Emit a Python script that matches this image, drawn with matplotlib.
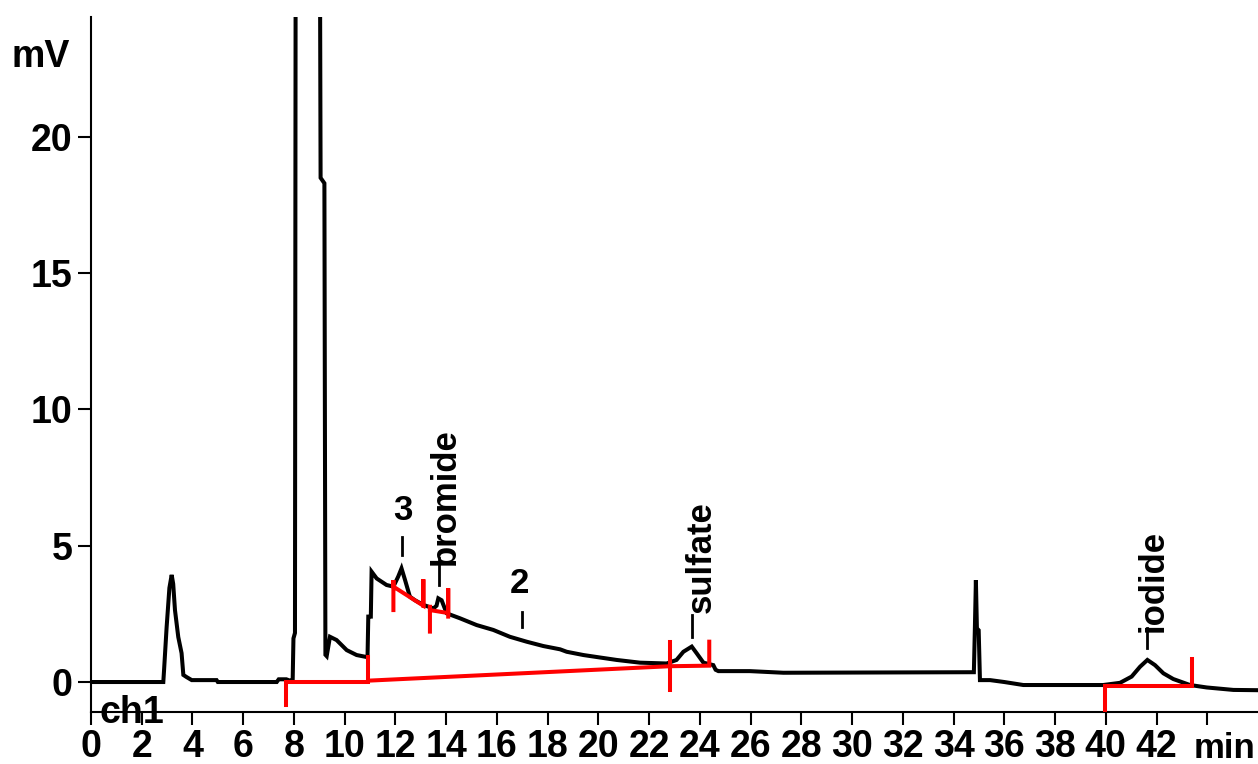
import matplotlib
matplotlib.use("Agg")
import matplotlib.pyplot as plt
import matplotlib.transforms as mtransforms

# ---- data ----
time_min = [0.0, 2.85, 2.88, 2.98, 3.09, 3.18, 3.24, 3.31, 3.44, 3.57, 3.64, 3.77, 3.97,
            4.95, 5.0, 7.32, 7.4, 7.7, 7.84, 7.95, 7.98, 8.04, 8.07, 8.5, 8.98, 9.03, 9.05,
            9.2, 9.24, 9.29, 9.42, 9.68, 10.08, 10.47, 10.9, 10.93, 11.03, 11.06, 11.26,
            11.65, 11.92, 12.11, 12.24, 12.38, 12.57, 12.77, 13.1, 13.5, 13.62, 13.69,
            13.82, 14.02, 14.54, 15.2, 15.86, 16.51, 17.17, 17.83, 18.49, 18.75, 19.41,
            20.06, 20.72, 21.64, 22.69, 23.08, 23.35, 23.68, 23.87, 24.14, 24.53, 24.62,
            24.73, 25.97, 27.29, 34.80, 34.84, 34.88, 34.92, 34.99, 35.04, 35.44, 36.0,
            36.75, 39.9, 40.56, 41.02, 41.35, 41.64, 41.94, 42.27, 42.66, 43.32, 43.98,
            45.03, 46.0]
signal_mv = [0.0, 0.0, 0.44, 2.0, 3.45, 3.93, 3.6, 2.64, 1.65, 1.06, 0.26, 0.18, 0.07,
             0.07, 0.0, 0.0, 0.1, 0.1, 0.05, 0.1, 1.6, 1.8, 30.0, 60.0, 40.0, 25.0, 18.5,
             18.3, 1.0, 0.95, 1.66, 1.54, 1.17, 0.99, 0.91, 2.4, 2.4, 4.05, 3.8,
             3.56, 3.5, 3.87, 4.17, 3.74, 3.13, 3.0, 2.83, 2.7, 2.8, 3.07,
             3.0, 2.52, 2.34, 2.09, 1.91, 1.66, 1.48, 1.32, 1.2, 1.11, 0.99,
             0.9, 0.81, 0.71, 0.68, 0.81, 1.11, 1.3, 1.06, 0.71, 0.62, 0.45,
             0.40, 0.40, 0.34, 0.36, 1.97, 3.74, 1.97, 1.9, 0.07, 0.07, 0.0,
             -0.11, -0.11, -0.03, 0.2, 0.56, 0.81, 0.62, 0.32, 0.11, -0.11, -0.2,
             -0.29, -0.3]

# integration baselines / markers (red), each a polyline
base_1_t = [7.67, 7.67, 10.93, 10.93]
base_1_v = [-0.84, 0.0, 0.0, 0.93]
base_2_t = [10.93, 22.82, 24.37, 24.37]
base_2_v = [0.05, 0.58, 0.6, 1.48]
mark_2_t = [22.82, 22.82]
mark_2_v = [-0.3, 1.48]
peak3_t = [11.92, 11.92, 11.92, 13.1, 13.1, 13.1]
peak3_v = [2.64, 3.74, 3.5, 2.8, 3.77, 2.8]
brom_t = [13.36, 13.36, 13.36, 14.08, 14.08, 14.08]
brom_v = [1.85, 2.83, 2.64, 2.53, 3.44, 2.4]
iod_t = [39.97, 39.97, 43.38, 43.38]
iod_v = [-1.1, -0.15, -0.15, 0.83]

# peak labels: text, tick x, tick y0, tick y1, text x, text y(bottom), rotation
label_text = ["3", "bromide", "2", "sulfate", "iodide"]
label_tick_x = [12.24, 13.72, 16.97, 23.68, 41.64]
label_tick_y0 = [4.66, 3.56, 2.03, 1.66, 1.24]
label_tick_y1 = [5.33, 4.54, 2.58, 2.46, 1.97]
label_x = [12.28, 13.95, 16.87, 24.05, 41.87]
label_y = [5.69, 4.3, 3.0, 2.53, 1.83]
label_rot = [0, 90, 0, 90, 90]

x_ticks = list(range(0, 46, 2))
x_tick_labels = [str(v) for v in range(0, 44, 2)] + [""]
y_ticks = [0, 5, 10, 15, 20]

# ---- figure ----
W, H = 1258, 764
fig = plt.figure(figsize=(W / 100, H / 100), dpi=100)
ax = fig.add_axes([91 / W, 52 / H, (W - 91) / W, 695 / H])

FONT = "Liberation Sans"
ax.plot(time_min, signal_mv, color="black", lw=2.9, solid_joinstyle="miter", zorder=3)
red_kw = dict(color="#ff0000", lw=2.9, zorder=4, solid_joinstyle="miter")
for tt, vv in [(base_1_t, base_1_v), (base_2_t, base_2_v), (mark_2_t, mark_2_v),
               (peak3_t, peak3_v), (brom_t, brom_v), (iod_t, iod_v)]:
    ax.plot(tt, vv, **red_kw)

for txt, tx, ty0, ty1, lx, ly, rot in zip(label_text, label_tick_x, label_tick_y0,
                                          label_tick_y1, label_x, label_y, label_rot):
    ax.plot([tx, tx], [ty0, ty1], color="black", lw=2.0, zorder=3)
    ax.text(lx, ly, txt, rotation=rot, ha="center", va="bottom",
            fontsize=25, family=FONT, fontweight="bold")

ax.set_xlim(0, 46)
ax.set_ylim(-1.1, 24.4)
for s in ["top", "right"]:
    ax.spines[s].set_visible(False)
for s in ["left", "bottom"]:
    ax.spines[s].set_linewidth(1.5)

ax.set_xticks(x_ticks)
ax.set_xticklabels(x_tick_labels)
ax.set_yticks(y_ticks)
ax.tick_params(axis="both", direction="out", length=9.4, width=1.5, labelsize=27)
ax.tick_params(axis="x", pad=3)
ax.tick_params(axis="y", pad=4)
for lab in ax.get_xticklabels() + ax.get_yticklabels():
    lab.set_family(FONT)
    lab.set_fontweight("bold")

trans = mtransforms.blended_transform_factory(ax.transData, ax.transAxes)
ax.text(43.45, -(758 - 712) / 695, "min", transform=trans, ha="left", va="baseline",
        fontsize=25, family=FONT, fontweight="bold")
ax.text(0.35, -(723 - 712) / 695, "ch1", transform=trans, ha="left", va="baseline",
        fontsize=27, family=FONT, fontweight="bold")
fig.text(12 / W, (H - 67) / H, "mV", ha="left", va="baseline",
         fontsize=27, family=FONT, fontweight="bold")

fig.savefig("out.png", dpi=100)
